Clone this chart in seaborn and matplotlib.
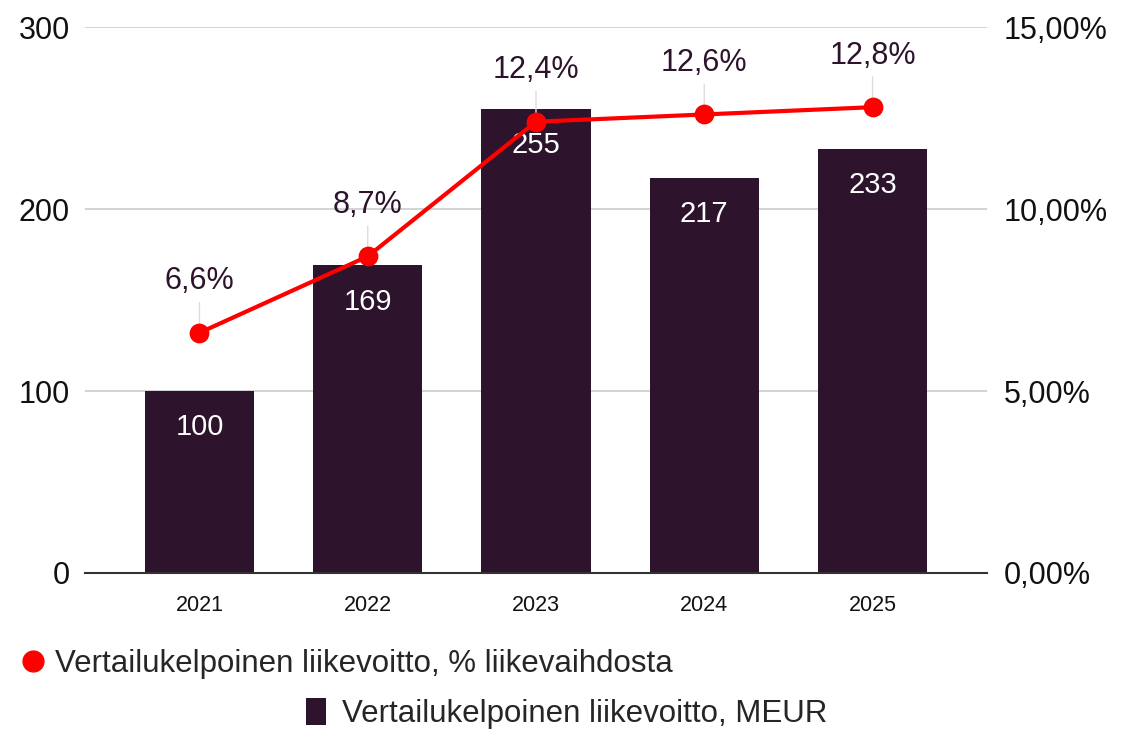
import matplotlib
matplotlib.use("Agg")
import matplotlib.pyplot as plt
import seaborn as sns
import pandas as pd
from matplotlib.ticker import FuncFormatter, FixedLocator
from matplotlib.lines import Line2D
from matplotlib.patches import Patch

years = ["2021", "2022", "2023", "2024", "2025"]
ebit_meur = [100, 169, 255, 217, 233]
ebit_pct = [6.6, 8.7, 12.4, 12.6, 12.8]
pct_labels = ["6,6%", "8,7%", "12,4%", "12,6%", "12,8%"]
left_ticks = [0, 100, 200, 300]
right_ticks = [0, 5, 10, 15]
bar_name = "Vertailukelpoinen liikevoitto, MEUR"
line_name = "Vertailukelpoinen liikevoitto, % liikevaihdosta"

BAR = "#2d132c"
RED = "#ff0000"

sns.set_theme(style="white")
plt.rcParams["font.family"] = ["Liberation Sans", "DejaVu Sans"]

df = pd.DataFrame({"year": years, "meur": ebit_meur, "pct": ebit_pct})

fig = plt.figure(figsize=(11.38, 7.33), dpi=100)
ax = fig.add_axes([0.0747, 0.2183, 0.7926, 0.7447])

sns.barplot(data=df, x="year", y="meur", color=BAR, saturation=1, width=0.65, ax=ax, zorder=2)
for p in ax.patches:
    p.set_edgecolor("none")

ax.set_ylim(0, 300)
ax.yaxis.set_major_locator(FixedLocator(left_ticks))
ax.grid(axis="y", color="#cccccc", linewidth=1.2, zorder=0)
ax.set_axisbelow(True)
for s in ["top", "right", "left"]:
    ax.spines[s].set_visible(False)
ax.spines["bottom"].set_color("#333333")
ax.spines["bottom"].set_linewidth(1.5)
ax.set_xlabel("")
ax.set_ylabel("")
ax.tick_params(axis="y", labelsize=22, length=0, pad=11, colors="#111111")
ax.tick_params(axis="x", labelsize=15.5, length=0, pad=16, colors="#111111")

for i, v in enumerate(ebit_meur):
    ax.annotate(str(v), xy=(i, v), xytext=(0, -26), textcoords="offset points",
                ha="center", va="center", color="white", fontsize=21)

ax2 = ax.twinx()
sns.pointplot(data=df, x="year", y="pct", color=RED, markers="o", linestyles="-",
              ax=ax2, errorbar=None, markersize=12, linewidth=3)
for ln in ax2.lines:
    ln.set_zorder(4)
ax2.set_ylim(0, 15)
ax2.yaxis.set_major_locator(FixedLocator(right_ticks))
ax2.yaxis.set_major_formatter(FuncFormatter(lambda v, p: f"{v:.2f}".replace(".", ",") + "%"))
for s in ["top", "right", "left", "bottom"]:
    ax2.spines[s].set_visible(False)
ax2.set_ylabel("")
ax2.set_xlabel("")
ax2.grid(False)
ax2.tick_params(axis="y", labelsize=22, length=0, pad=12, colors="#111111")

for i, v in enumerate(ebit_pct):
    ax2.annotate(pct_labels[i], xy=(i, v), xytext=(0, 37), textcoords="offset points",
                 ha="center", va="center", color=BAR, fontsize=22, zorder=1,
                 arrowprops=dict(arrowstyle="-", color="#dddddd", lw=1, shrinkA=2, shrinkB=0))

ax.set_xlim(-0.68, 4.68)
ax2.set_xlim(-0.68, 4.68)

h1 = [Line2D([], [], marker="o", color="none", markerfacecolor=RED, markeredgecolor=RED, markersize=15)]
fig.legend(h1, [line_name], loc="center left", bbox_to_anchor=(0.005, 0.094), frameon=False,
           fontsize=22.5, handlelength=0.75, handletextpad=0.33, borderpad=0)
h2 = [Patch(facecolor=BAR, edgecolor="none")]
fig.legend(h2, [bar_name], loc="center left", bbox_to_anchor=(0.255, 0.027), frameon=False,
           fontsize=22.5, handlelength=0.65, handleheight=0.95, handletextpad=0.5, borderpad=0)

fig.savefig("out.png", dpi=100)
